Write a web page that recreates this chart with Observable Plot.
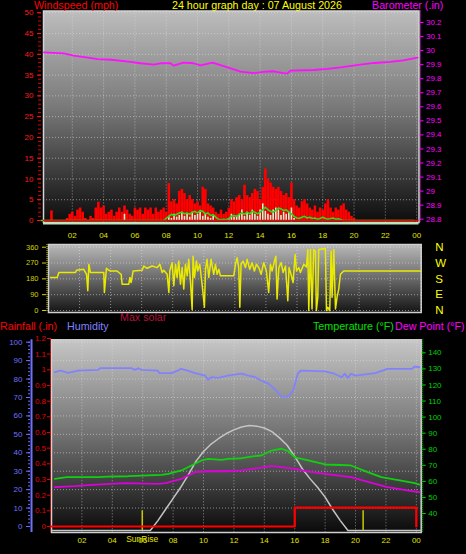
<!DOCTYPE html>
<html><head><meta charset="utf-8">
<script src="https://cdn.jsdelivr.net/npm/d3@7"></script>
<script src="https://cdn.jsdelivr.net/npm/@observablehq/plot@0.6"></script>
<style>
html,body{margin:0;padding:0;background:#000;}
#wrap{position:relative;width:466px;height:554px;background:#000;overflow:hidden;font-family:"Liberation Sans",Arial,sans-serif;}
.lbl{position:absolute;font-size:10.7px;line-height:1;white-space:nowrap;}
</style></head><body><div id="wrap"></div>
<script>
// ---------------- DATA ----------------
const titleText = "24 hour graph day : 07 August 2026";
const xTickHours = [2,4,6,8,10,12,14,16,18,20,22,24];
const xTickLabels = ["02","04","06","08","10","12","14","16","18","20","22","00"];
const windTicks = [0,5,10,15,20,25,30,35,40,45,50];
const baroTicks = [28.8,28.9,29,29.1,29.2,29.3,29.4,29.5,29.6,29.7,29.8,29.9,30,30.1,30.2];
const dirTicks = [0,90,180,270,360];
const compass = ["N","E","S","W","N"];
const humTicks = [0,10,20,30,40,50,60,70,80,90,100];
const rainTicks = [0,0.1,0.2,0.3,0.4,0.5,0.6,0.7,0.8,0.9,1,1.1,1.2];
const tempTicks = [40,50,60,70,80,90,100,110,120,130,140];

// wind (mph), one sample per 10 minutes from 00:00
const gust = [
 0,0,0,0,2.3,0,0,0,  0,0,0.5,1.5,2,1,2.5,3,  2,0.5,0,1,0.5,3,4.4,3,
 3.5,1.5,2,2.5,1,2,3,2,  3.5,2.5,1.5,1,3,2.5,3,1.5,  3,2.5,3,1.5,3,2,2.5,3,
 2,8.9,4.5,5,4,7,7.5,6.5,  5,6,5,4,4.5,3.5,8,7.5,  4,3.5,3,2,1.5,2.5,1.5,2,
 3,5,4.5,5.5,6,5,8.5,6,  5.5,6.5,7.5,7,5,8,12.4,10,  9,8,7.5,8,7,6,6.5,5.5,
 9,5,3.5,3,4.5,5,4,3,  2.5,3.5,2,3,2.5,4,5,3,  2,3,2.5,3.5,4,2.5,2,1,
 0.5,0,0,0,0,0,0,0,  0,0,0,0,0,0,0,0,  0,0,0,0,0,0,0,0];
const windSpd = [
 0,0,0,0,0,0,0,0,  0,0,0,0,0,0,0,0,  0,0,0,0,0,0,0,0,
 0,0,0,0,0,0,0,0,  1.5,0,0,0,0,0,0,0,  0,0,0,0,0,0,0,0,
 0,1,0.5,1.5,0.8,1.2,2,1,  1.5,0.8,2,1.2,1.5,2,1,1.5,  0.8,0.5,1,0,0,0,0,0,
 0.5,1.5,0.8,1,1.5,2.5,1,2,  1.2,2.5,1.5,1,2.5,4,2.2,1.5,  1.2,2.5,3,2.5,1.2,2,1.5,2,
 3,0.5,0,0,0,0,0,0,  0,0,0,0,0,0,0,0,  0,0,0,0,0,0,0,0,
 0,0,0,0,0,0,0,0,  0,0,0,0,0,0,0,0,  0,0,0,0,0,0,0,0];
const windAvg = [
 0,0,0,0,0,0,0,0,  0,0,0,0,0,0,0,0,  0,0,0,0,0,0,0,0,
 0,0,0,0,0,0,0,0,  0,0,0,0,0,0,0,0,  0,0,0,0,0,0,0,0,
 0.5,1.0,1.5,1.2,1.5,1.8,2.0,1.6,  1.8,1.5,2.0,2.2,1.8,2.4,2.2,1.6,  1.8,1.2,1.4,0.8,0.3,0.2,0.3,0.2,
 0.5,1.0,1.2,1.0,1.5,1.8,1.5,2.0,  1.6,2.2,2.0,1.6,2.0,2.6,3.2,2.6,  2.2,2.0,2.4,3.0,2.8,2.4,2.6,2.0,
 1.6,1.0,0.6,0.5,0.8,1.0,0.6,0.8,  0.5,0.6,0.3,0.5,0.8,0.5,0.3,0.5,  0.6,0.3,0.4,0.2,0,0,0,0,
 0,0,0,0,0,0,0,0,  0,0,0,0,0,0,0,0,  0,0,0,0,0,0,0,0];

// barometer (in)
const baroHours = [0.18,1.44,2.08,3.0,3.61,4.5,5.72,6.36,7.19,7.64,8.27,8.47,9.1,9.74,10.19,10.96,11.92,12.75,13.58,14.2,14.86,15.5,15.75,15.94,17.41,18.3,19.14,20.4,21.3,22.32,23.15,24.06];
const baroValues = [29.988,29.98,29.964,29.95,29.94,29.935,29.92,29.91,29.9,29.91,29.91,29.893,29.914,29.91,29.895,29.914,29.88,29.85,29.84,29.848,29.853,29.84,29.838,29.857,29.862,29.87,29.88,29.9,29.912,29.92,29.93,29.95];

// wind direction (degrees)
const dirHours = [0.13,0.56,0.67,1.74,1.8,2.27,2.45,2.53,2.6,2.7,3.56,3.6,3.73,3.88,3.99,4.42,4.53,4.68,4.74,5.17,5.24,5.32,5.45,6.03,6.14,6.35,6.67,7.0,7.17,7.32,7.42,7.64,7.75,7.81,7.96,8.07,8.18,8.28,8.39,8.5,8.61,8.71,8.82,8.93,9.03,9.14,9.25,9.31,9.4,9.53,9.61,9.74,9.89,10.04,10.11,10.21,10.32,10.47,10.64,10.75,10.86,10.97,11.07,11.93,12.04,12.15,12.25,12.32,12.4,12.53,12.68,12.79,12.96,13.11,13.26,13.39,13.54,13.69,13.86,14.03,14.18,14.29,14.4,14.55,14.64,14.72,14.83,14.98,15.11,15.26,15.41,15.49,15.62,15.75,15.88,15.97,16.12,16.22,16.44,16.61,16.7,16.76,16.87,16.97,17.08,17.19,17.25,17.34,17.4,17.83,17.9,17.98,18.11,18.2,18.26,18.37,18.48,18.58,18.69,18.8,18.91,19.01,19.33,23.99];
const dirValues = [188,188,216,216,229,234,206,113,263,216,216,103,240,229,225,225,216,206,150,150,188,159,225,229,253,240,253,244,263,216,229,206,103,225,272,141,263,188,281,150,244,122,263,197,291,169,4,309,188,281,225,263,150,19,234,291,188,291,206,263,206,234,197,197,263,300,244,19,263,281,244,291,234,272,225,263,244,206,272,225,103,263,225,281,309,66,244,272,216,253,56,244,206,159,319,225,244,216,263,248,347,0,347,9,347,338,0,75,347,353,0,19,0,338,75,347,9,75,122,206,216,225,225,225];

// humidity (%)
const humHours = [0.22,0.6,1.1,1.75,3.07,3.2,5.26,5.48,5.7,5.92,6.99,7.1,7.9,8.3,8.52,8.96,9.4,10.1,10.3,10.52,10.96,11.6,12.5,12.9,13.4,13.8,14.3,14.9,15.1,15.57,15.9,16.2,16.4,18.0,18.6,19.1,19.3,19.5,19.7,20.0,21.3,22.1,23.7,23.9,24.2];
const humValues = [83.7,84.6,83.4,84.6,85,85.9,85.9,85,85.9,85,84.6,83.2,83.2,84.6,85.5,84.6,83.4,81.9,79.6,81,80.6,81.9,83,82,81,79.2,77.4,72.9,70.5,70.5,73.8,82.9,84.6,84.2,82.9,81,82.9,80.6,82.9,81.9,83.2,85.5,85.5,86.8,86.4];
// temperature (°F)
const tempHours = [0.22,1.0,3.07,3.7,5.04,5.92,7.24,7.68,8.55,9.2,9.87,10.3,11.2,11.6,12.5,13.37,13.8,14.47,15.13,15.57,16.0,16.9,18.0,19.0,19.7,20.8,21.7,23.0,23.9,24.2];
const tempValues = [61.6,62.6,62.6,63,63.2,63.6,64.1,64.7,66.8,69.9,73,74,73.4,74,74.4,75.7,76.1,79.2,80.3,78.8,75,73,70.5,70.2,69.9,65.7,62.6,60.5,58.9,58];
// dew point (°F)
const dewHours = [0.22,1.53,2.63,4.82,7.0,7.5,8.55,9.43,10.3,11.6,12.5,13.8,14.47,16.0,16.9,18.0,19.7,21.3,22.1,23.5,24.2];
const dewValues = [56.4,57,57.8,58.9,58.5,58.9,61.6,65.7,66.3,66.3,66.8,68.6,69.7,67.8,66.1,64.7,62.6,58.5,56.4,54.3,53.3];
// max solar (W/m²)
const solarHours = [0,6.5,7,7.5,8,8.5,9,9.5,10,10.5,11,11.5,12,12.5,13,13.5,14,14.5,15,15.5,16,16.5,17,17.5,18,18.5,19,19.5,24.32];
const solarValues = [0,0,80,170,260,350,450,560,640,700,745,785,815,838,850,845,830,800,750,690,600,500,420,350,270,170,80,0,0];
// rainfall (in), step
const rainHours = [0,16,24];
const rainValues = [0,0.12,0];
// sunrise / sunset (hours)
const sunEvents = [5.97,20.5];
const sunriseLabel = "SunRise";

// ---------------- HELPERS ----------------
const pts = (hs, vs) => hs.map((h, i) => ({h, v: vs[i]}));
const sample10 = vs => vs.map((v, i) => ({h: i / 6, v}));
const wrap = document.getElementById("wrap");
const FONT = '"Liberation Sans", Arial, sans-serif';
function place(svg, top) {
  Object.assign(svg.style, {position: "absolute", left: "0px", top: top + "px", background: "transparent", overflow: "visible", fontFamily: FONT, maxWidth: "none"});
  wrap.appendChild(svg);
}
function addGrad(svg, id, stops) {
  const ns = "http://www.w3.org/2000/svg";
  const defs = document.createElementNS(ns, "defs");
  const lg = document.createElementNS(ns, "linearGradient");
  lg.setAttribute("id", id); lg.setAttribute("x1", "0"); lg.setAttribute("y1", "0"); lg.setAttribute("x2", "0"); lg.setAttribute("y2", "1");
  for (const [o, c] of stops) { const s = document.createElementNS(ns, "stop"); s.setAttribute("offset", o); s.setAttribute("stop-color", c); lg.appendChild(s); }
  defs.appendChild(lg); svg.insertBefore(defs, svg.firstChild);
}
function label(text, left, top, color, extra) {
  const d = document.createElement("div");
  d.className = "lbl"; d.textContent = text;
  Object.assign(d.style, {left: left + "px", top: top + "px", color}, extra || {});
  wrap.appendChild(d);
}
const gridStyle = {stroke: "#e0e0e0", strokeOpacity: 0.55, strokeDasharray: "1,2"};

// ---------------- PANEL 1 : wind speed + barometer ----------------
const p1 = {width: 466, height: 250, marginLeft: 43, marginRight: 47.5, marginTop: 10.5, marginBottom: 28};
const x1 = [0.16, 24.15];
const windDomain = [-0.48, 50.43];
const baroDomain = [28.7765, 30.282];

const windPlot = Plot.plot({
  ...p1,
  x: {domain: x1},
  y: {domain: windDomain},
  marks: [
    Plot.frame({fill: "url(#g1)", stroke: "#d4d4d4", strokeWidth: 1.5}),
    Plot.ruleX(xTickHours, {...gridStyle}),
    Plot.ruleY(windTicks.slice(1), {...gridStyle}),
    Plot.ruleX(sample10(gust), {x: "h", y: "v", stroke: "#ff0000", strokeWidth: 2.6}),
    Plot.ruleX(sample10(windSpd), {x: "h", y: "v", stroke: "#d2f2d2", strokeWidth: 1.6}),
    Plot.line(sample10(windAvg), {x: "h", y: "v", stroke: "#1ee01e", strokeWidth: 1.6}),
    Plot.ruleY([0], {stroke: "#ff0000", strokeWidth: 1.5}),
    Plot.ruleY([windDomain[0]], {stroke: "#b8e8b8", strokeWidth: 2, dy: 1}),
    Plot.axisY(d3.range(0, 51, 1), {anchor: "left", tickSize: 3, dx: -2, color: "#e00000", tickFormat: () => "", label: null}),
    Plot.axisY(windTicks, {anchor: "left", tickSize: 4, tickPadding: 4, dx: -2, color: "#ff1a1a", fontSize: 8, label: null}),
    Plot.axisX(xTickHours, {anchor: "bottom", tickSize: 0, tickPadding: 10, color: "#e2e200", fontSize: 8, tickFormat: (d, i) => xTickLabels[i], label: null})
  ]
});
addGrad(windPlot, "g1", [["0", "#bdbdbd"], ["0.45", "#7a7a7a"], ["1", "#0c0c0c"]]);
place(windPlot, 0);

const baroPlot = Plot.plot({
  ...p1,
  x: {domain: x1, axis: null},
  y: {domain: baroDomain},
  marks: [
    Plot.line(pts(baroHours, baroValues), {x: "h", y: "v", stroke: "#ff10ff", strokeWidth: 1.8}),
    Plot.ruleX([x1[1]], {dx: 1.5, stroke: "#ff00ff", strokeDasharray: "1,1"}),
    Plot.axisY(baroTicks, {anchor: "right", tickSize: 4, tickPadding: 3, color: "#ff00ff", fontSize: 8, tickFormat: d => String(d), label: null})
  ]
});
place(baroPlot, 0);

// ---------------- PANEL 2 : wind direction ----------------
const x2 = [0, 24];
const dirPlot = Plot.plot({
  width: 466, height: 80, marginLeft: 48, marginRight: 45.3, marginTop: 6, marginBottom: 6,
  x: {domain: x2, axis: null},
  y: {domain: [-11.4, 375.4]},
  marks: [
    Plot.frame({fill: "url(#g2)", stroke: "#cfcfcf", strokeWidth: 1.5}),
    Plot.ruleX(xTickHours, {...gridStyle}),
    Plot.ruleY(dirTicks, {...gridStyle}),
    Plot.line(pts(dirHours, dirValues), {x: "h", y: "v", stroke: "#eaea00", strokeWidth: 1.5}),
    Plot.ruleX([x2[0]], {dx: -1.5, stroke: "#d4d400", strokeDasharray: "1,1"}),
    Plot.axisY(dirTicks, {anchor: "left", tickSize: 4, tickPadding: 4, dx: -2, color: "#d2d200", fontSize: 7.5, label: null}),
    Plot.axisY(dirTicks, {anchor: "right", tickSize: 0, tickPadding: 14, color: "#ffff00", fontSize: 11.5, tickFormat: (d, i) => compass[i], label: null})
  ]
});
addGrad(dirPlot, "g2", [["0", "#b8b8b8"], ["0.5", "#6a6a6a"], ["1", "#141414"]]);
place(dirPlot, 238);

// ---------------- PANEL 3 : rain / humidity / temperature / dew / solar ----------------
const p3 = {width: 466, height: 224, marginLeft: 51, marginRight: 45.3, marginTop: 9.3, marginBottom: 22};
const x3 = [0, 24.32];

const humPlot = Plot.plot({
  ...p3,
  x: {domain: x3},
  y: {domain: [-3.26, 101.3]},
  marks: [
    Plot.frame({fill: "url(#g3)", stroke: "#d0d0d0", strokeWidth: 1.5}),
    Plot.ruleX(xTickHours, {...gridStyle}),
    Plot.ruleY(humTicks.slice(1), {...gridStyle}),
    Plot.line(pts(humHours, humValues), {x: "h", y: "v", stroke: "#8282ff", strokeWidth: 1.8}),
    Plot.ruleX([x3[0]], {dx: -20, stroke: "#7070ff", strokeWidth: 2}),
    Plot.axisY(d3.range(0, 101, 2), {anchor: "left", tickSize: 2, dx: -21, color: "#7070ff", tickFormat: () => "", label: null}),
    Plot.axisY(humTicks, {anchor: "left", tickSize: 4, tickPadding: 4, dx: -21, color: "#7070ff", fontSize: 8, label: null}),
    Plot.axisX(xTickHours, {anchor: "bottom", tickSize: 0, tickPadding: 5, color: "#e2e200", fontSize: 8, tickFormat: (d, i) => xTickLabels[i], label: null}),
    Plot.text([sunEvents[0]], {x: d => d, frameAnchor: "bottom", dy: 9, text: () => sunriseLabel, fill: "#e2e200", fontSize: 8.5})
  ]
});
addGrad(humPlot, "g3", [["0", "#c6c6c6"], ["0.5", "#707070"], ["1", "#0a0a0a"]]);
place(humPlot, 330);

const solarPlot = Plot.plot({
  ...p3,
  x: {domain: x3, axis: null},
  y: {domain: [-16.2, 1544], axis: null},
  marks: [
    Plot.line(pts(solarHours, solarValues), {x: "h", y: "v", stroke: "#c4c4c4", strokeWidth: 1.5})
  ]
});
place(solarPlot, 330);

const tempPlot = Plot.plot({
  ...p3,
  x: {domain: x3, axis: null},
  y: {domain: [28.18, 148.1]},
  marks: [
    Plot.line(pts(tempHours, tempValues), {x: "h", y: "v", stroke: "#10d010", strokeWidth: 1.8}),
    Plot.line(pts(dewHours, dewValues), {x: "h", y: "v", stroke: "#dd00dd", strokeWidth: 1.8}),
    Plot.ruleX([x3[1]], {dx: 1.5, stroke: "#00dd00", strokeDasharray: "1,1"}),
    Plot.axisY(tempTicks, {anchor: "right", tickSize: 4, tickPadding: 3, color: "#00d000", fontSize: 8, label: null})
  ]
});
place(tempPlot, 330);

const rainPlot = Plot.plot({
  ...p3,
  x: {domain: x3, axis: null},
  y: {domain: [-0.0383, 1.1915]},
  marks: [
    Plot.ruleX(sunEvents, {x: d => d, y1: -0.025, y2: 0.1, stroke: "#c8c800", strokeWidth: 1.5}),
    Plot.line(pts(rainHours, rainValues), {x: "h", y: "v", curve: "step-after", stroke: "#ff0000", strokeWidth: 2.2}),
    Plot.ruleX([x3[0]], {dx: -1, stroke: "#ff0000", strokeDasharray: "1,1"}),
    Plot.axisY(rainTicks, {anchor: "left", tickSize: 4, tickPadding: 1.5, color: "#e80000", fontSize: 8, tickFormat: d => String(d), label: null})
  ]
});
place(rainPlot, 330);

// ---------------- TEXT LABELS ----------------
label("Windspeed (mph)", 34, 0.3, "#ff0000");
label(titleText, 172, 0.3, "#ffff00");
label("Barometer (.in)", 372, 0.3, "#ff00ff");
label("Max solar", 120, 312, "#b8143c");
label("Rainfall (.in)", 0, 321.2, "#ff0000");
label("Humidity", 67, 321.2, "#8080ff");
label("Temperature (°F)", 313, 321.2, "#00e000");
label("Dew Point (°F)", 395, 321.2, "#ff00ff");
</script>
</body></html>
